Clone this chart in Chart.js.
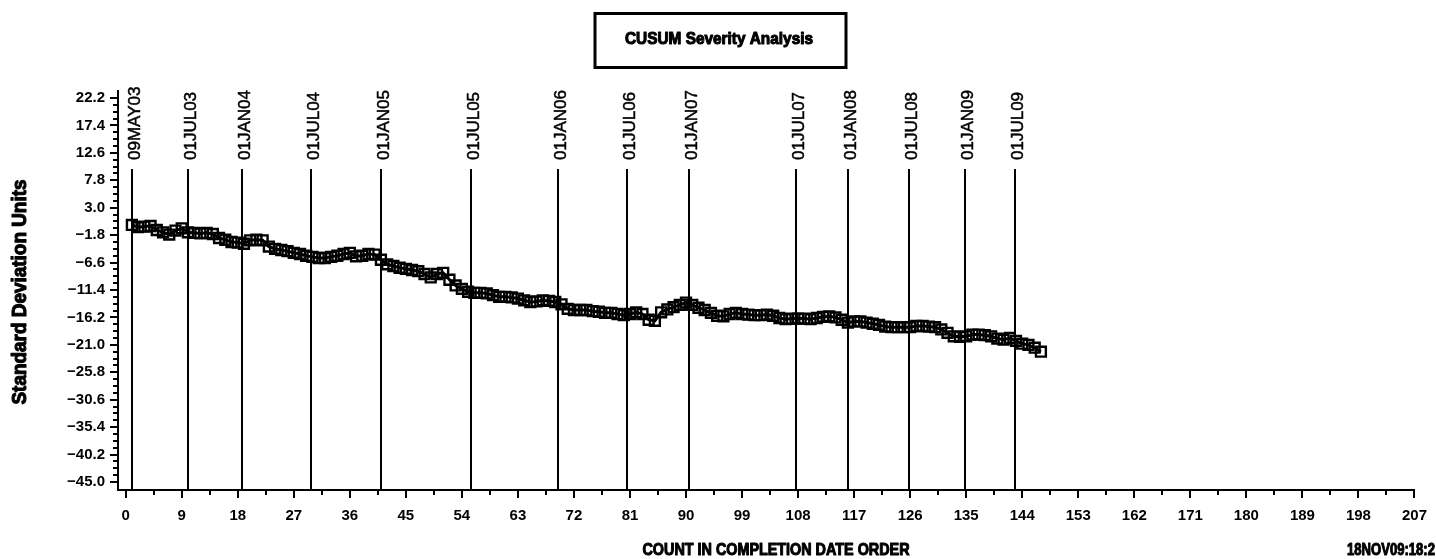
<!DOCTYPE html>
<html>
<head>
<meta charset="utf-8">
<script src="https://cdn.jsdelivr.net/npm/chart.js@4/dist/chart.umd.min.js"></script>
<style>
  html, body { margin: 0; padding: 0; background: #fff; }
  #wrap { width: 1436px; height: 559px; }
</style>
</head>
<body>
<div id="wrap"><canvas id="c" width="1436" height="559"></canvas></div>
<script>
// CUSUM values, one per observation (count 1, 2, 3, ...)
const cusum = [
  0.0, -0.4, -0.3, -0.2, -0.9, -1.3, -1.7, -1.0, -0.6, -1.3,
  -1.4, -1.5, -1.4, -1.6, -2.3, -2.6, -3.0, -3.1, -3.3, -2.7,
  -2.6, -2.7, -3.8, -4.2, -4.4, -4.6, -4.9, -5.1, -5.4, -5.6,
  -5.8, -5.8, -5.6, -5.4, -5.1, -4.9, -5.5, -5.4, -5.1, -5.2,
  -6.1, -6.9, -7.2, -7.5, -7.7, -7.9, -8.1, -8.6, -9.2, -8.6,
  -8.4, -9.6, -10.6, -11.2, -11.7, -11.9, -11.9, -12.0, -12.3, -12.6,
  -12.6, -12.7, -12.9, -13.2, -13.5, -13.4, -13.2, -13.3, -13.5, -13.9,
  -14.7, -14.9, -14.9, -14.9, -15.1, -15.2, -15.4, -15.4, -15.6, -15.8,
  -15.6, -15.3, -15.6, -16.6, -16.8, -15.3, -14.8, -14.4, -14.0, -13.6,
  -14.0, -14.5, -14.9, -15.4, -15.9, -16.0, -15.6, -15.4, -15.6, -15.7,
  -15.8, -15.8, -15.7, -15.9, -16.3, -16.5, -16.4, -16.4, -16.4, -16.5,
  -16.3, -16.1, -16.0, -16.2, -16.6, -17.1, -16.9, -16.9, -17.1, -17.3,
  -17.5, -17.8, -17.9, -17.9, -17.9, -17.9, -17.7, -17.7, -17.8, -17.9,
  -18.3, -18.9, -19.5, -19.6, -19.5, -19.2, -19.2, -19.3, -19.5, -19.9,
  -20.1, -19.8, -20.3, -20.8, -21.0, -21.5, -22.2
];

// Date reference lines: count at which each date falls, and its label
const dateCounts = [1, 10, 18.7, 29.7, 41, 55.4, 69.5, 80.5, 90.5, 107.7, 116.0, 125.8, 134.8, 142.8];
const dateLabels = ['09MAY03', '01JUL03', '01JAN04', '01JUL04', '01JAN05', '01JUL05', '01JAN06',
                    '01JUL06', '01JAN07', '01JUL07', '01JAN08', '01JUL08', '01JAN09', '01JUL09'];

// Axis tick values
const xTickValues = [0, 9, 18, 27, 36, 45, 54, 63, 72, 81, 90, 99, 108, 117, 126, 135, 144,
                     153, 162, 171, 180, 189, 198, 207];
const yTickValues = [22.2, 17.4, 12.6, 7.8, 3.0, -1.8, -6.6, -11.4, -16.2, -21.0, -25.8,
                     -30.6, -35.4, -40.2, -45.0];

const chartTitle = 'CUSUM Severity Analysis';
const yTitle = 'Standard Deviation Units';
const xTitle = 'COUNT IN COMPLETION DATE ORDER';
const stamp = '18NOV09:18:2';

const FONT = "'Liberation Sans', Arial, sans-serif";

// Heavy text squeezed horizontally to a given width
function fitText(ctx, text, x, y, width, size, align) {
  ctx.save();
  ctx.font = 'bold ' + size + 'px ' + FONT;
  const w = ctx.measureText(text).width;
  const sx = width / w;
  ctx.translate(x, y);
  ctx.scale(sx, 1);
  ctx.textAlign = align || 'center';
  ctx.textBaseline = 'alphabetic';
  ctx.fillStyle = '#000';
  ctx.strokeStyle = '#000';
  ctx.lineWidth = 1.1;
  ctx.lineJoin = 'round';
  ctx.fillText(text, 0, 0);
  ctx.strokeText(text, 0, 0);
  ctx.restore();
}

const decor = {
  id: 'decor',
  afterDraw(chart) {
    const ctx = chart.ctx;
    const xs = chart.scales.x, ys = chart.scales.y, area = chart.chartArea;
    ctx.save();
    ctx.strokeStyle = '#000';
    ctx.fillStyle = '#000';
    ctx.lineWidth = 2;

    // minor ticks on the horizontal axis
    for (let i = 0; i < xTickValues.length - 1; i++) {
      const px = Math.round(xs.getPixelForValue((xTickValues[i] + xTickValues[i + 1]) / 2));
      ctx.beginPath(); ctx.moveTo(px, area.bottom); ctx.lineTo(px, area.bottom + 5); ctx.stroke();
    }
    // minor ticks on the vertical axis
    for (let i = 0; i < yTickValues.length - 1; i++) {
      const a = yTickValues[i], b = yTickValues[i + 1];
      for (let k = 1; k <= 3; k++) {
        const py = Math.round(ys.getPixelForValue(a + (b - a) * k / 4));
        ctx.beginPath(); ctx.moveTo(area.left, py); ctx.lineTo(area.left - 5, py); ctx.stroke();
      }
    }

    // date reference lines with rotated labels
    dateCounts.forEach((c, i) => {
      const px = Math.round(xs.getPixelForValue(c));
      ctx.lineWidth = 2;
      ctx.beginPath(); ctx.moveTo(px, 169); ctx.lineTo(px, area.bottom); ctx.stroke();
      ctx.save();
      ctx.translate(px + 3.5, 160);
      ctx.rotate(-Math.PI / 2);
      ctx.font = '17px ' + FONT;
      ctx.textAlign = 'left';
      ctx.textBaseline = 'middle';
      ctx.lineWidth = 0.5;
      ctx.fillText(dateLabels[i], 0, 0);
      ctx.strokeText(dateLabels[i], 0, 0);
      ctx.restore();
    });

    // title box
    ctx.lineWidth = 3;
    ctx.strokeRect(595, 13.5, 251, 54);
    fitText(ctx, chartTitle, 719, 44, 188, 17, 'center');

    // axis titles and stamp
    ctx.save();
    ctx.translate(26, 292);
    ctx.rotate(-Math.PI / 2);
    fitText(ctx, yTitle, 0, 0, 225, 20, 'center');
    ctx.restore();
    fitText(ctx, xTitle, 776, 555, 267, 17, 'center');
    fitText(ctx, stamp, 1347, 555, 88, 17, 'left');
    ctx.restore();
  }
};

const tickFont = { family: FONT, size: 15, weight: 'bold' };

new Chart(document.getElementById('c'), {
  type: 'line',
  data: {
    datasets: [{
      data: cusum.map((v, i) => ({ x: i + 1, y: v })),
      borderColor: '#000',
      borderWidth: 3,
      tension: 0,
      fill: false,
      pointStyle: 'rect',
      pointRadius: 7,
      pointBorderWidth: 2.4,
      pointBorderColor: '#000',
      pointBackgroundColor: 'rgba(0,0,0,0)'
    }]
  },
  options: {
    responsive: false,
    animation: false,
    devicePixelRatio: 1,
    layout: { padding: { left: 0, top: 90.6, right: 16.6, bottom: 0 } },
    plugins: { legend: { display: false }, tooltip: { enabled: false }, title: { display: false } },
    scales: {
      x: {
        type: 'linear',
        min: -1.23,
        max: 207,
        afterBuildTicks: s => { s.ticks = xTickValues.map(v => ({ value: v })); },
        afterFit: s => { s.height = 69; },
        ticks: { color: '#000', font: tickFont, padding: 9, maxRotation: 0, autoSkip: false,
                 callback: v => String(v) },
        grid: { display: true, drawOnChartArea: false, drawTicks: true, tickLength: 8,
                color: '#000', lineWidth: 2 },
        border: { display: true, color: '#000', width: 2 }
      },
      y: {
        type: 'linear',
        min: -46.4,
        max: 23.5,
        afterBuildTicks: s => { s.ticks = yTickValues.map(v => ({ value: v })); },
        afterFit: s => { s.width = 118; },
        ticks: { color: '#000', font: tickFont, padding: 5, autoSkip: false,
                 callback: v => Number(v).toFixed(1).replace('-', '\u2212') },
        grid: { display: true, drawOnChartArea: false, drawTicks: true, tickLength: 8,
                color: '#000', lineWidth: 2 },
        border: { display: true, color: '#000', width: 2 }
      }
    }
  },
  plugins: [decor]
});
</script>
</body>
</html>
